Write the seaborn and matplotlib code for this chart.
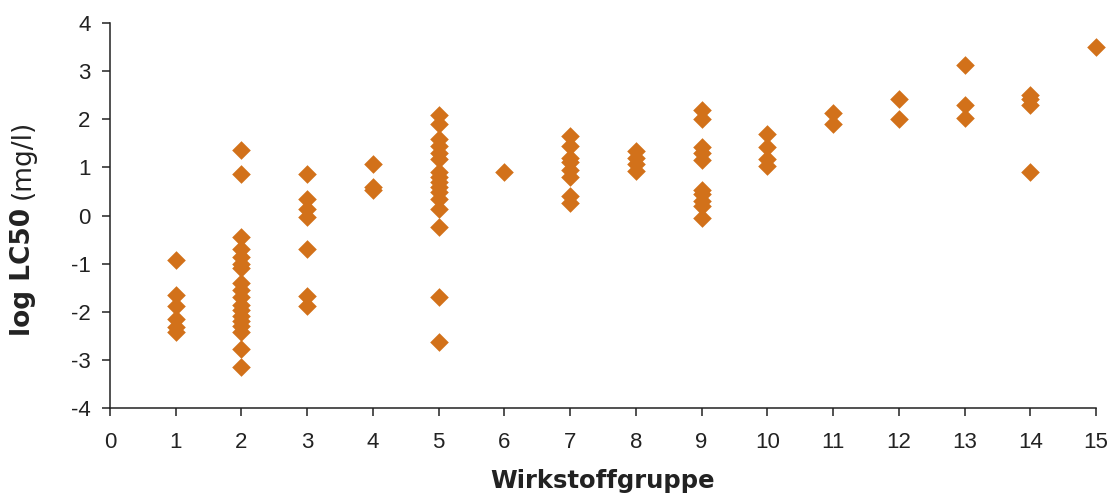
import pandas as pd
import seaborn as sns
import matplotlib.pyplot as plt

# log LC50 values (mg/l) per Wirkstoffgruppe
gruppe_1 = [-0.92, -1.66, -1.87, -2.15, -2.32, -2.43]
gruppe_2 = [1.37, 0.87, -0.45, -0.69, -0.87, -1.0, -1.1, -1.4, -1.55, -1.7,
            -1.85, -1.97, -2.08, -2.2, -2.3, -2.42, -2.77, -3.15]
gruppe_3 = [0.87, 0.35, 0.14, -0.03, -0.7, -1.68, -1.88]
gruppe_4 = [1.07, 0.6, 0.52]
gruppe_5 = [2.08, 1.9, 1.58, 1.45, 1.3, 1.18, 0.9, 0.8, 0.7, 0.6, 0.48, 0.35,
            0.13, -0.24, -1.7, -2.63]
gruppe_6 = [0.9]
gruppe_7 = [1.65, 1.45, 1.2, 1.12, 0.95, 0.8, 0.4, 0.25]
gruppe_8 = [1.35, 1.2, 1.08, 0.93]
gruppe_9 = [2.2, 2.0, 1.42, 1.3, 1.15, 0.52, 0.45, 0.3, 0.2, -0.06]
gruppe_10 = [1.7, 1.42, 1.18, 1.03]
gruppe_11 = [2.13, 1.9]
gruppe_12 = [2.43, 2.01]
gruppe_13 = [3.12, 2.29, 2.03]
gruppe_14 = [2.5, 2.42, 2.3, 0.9]
gruppe_15 = [3.5]

groups = [gruppe_1, gruppe_2, gruppe_3, gruppe_4, gruppe_5, gruppe_6, gruppe_7,
          gruppe_8, gruppe_9, gruppe_10, gruppe_11, gruppe_12, gruppe_13,
          gruppe_14, gruppe_15]

rows = []
for i, vals in enumerate(groups, start=1):
    for v in vals:
        rows.append({'Wirkstoffgruppe': i, 'logLC50': v})
df = pd.DataFrame(rows)

sns.set_style('ticks')
plt.rcParams['font.family'] = ['Liberation Sans', 'DejaVu Sans']
plt.rcParams['axes.unicode_minus'] = False

fig = plt.figure(figsize=(11.11, 4.97), dpi=100)
ax = fig.add_axes([0.099, 0.179, 0.8875, 0.7747])

sns.scatterplot(data=df, x='Wirkstoffgruppe', y='logLC50', marker='D',
                s=90, color='#D2711A', linewidth=0, ax=ax, clip_on=False,
                zorder=3)

ax.set_xlim(0, 15)
ax.set_ylim(-4, 4)
ax.set_xticks(range(0, 16))
ax.set_yticks(range(-4, 5))
sns.despine(ax=ax)
for sp in ['left', 'bottom']:
    ax.spines[sp].set_linewidth(1.1)
    ax.spines[sp].set_color('#222222')
ax.tick_params(axis='both', labelsize=16, width=1.1, length=6,
               color='#222222', labelcolor='#222222')
ax.tick_params(axis='y', pad=8)
ax.tick_params(axis='x', pad=11)

ax.set_xlabel('Wirkstoffgruppe', fontsize=17.5, fontweight='bold',
              family='DejaVu Sans', color='#222222', labelpad=12)
ax.set_ylabel('')

# y label with bold and regular parts
t1 = fig.text(22.5 / 1111, (497 - 336) / 497, 'log LC50', rotation=90,
              fontsize=19, fontweight='bold', family='DejaVu Sans',
              color='#222222', ha='center', va='bottom')
fig.canvas.draw()
bb = t1.get_window_extent()
fig.text(23 / 1111, (bb.y1 + 9) / fig.bbox.height, '(mg/l)', rotation=90,
         fontsize=19, family='DejaVu Sans', color='#222222',
         ha='center', va='bottom')

fig.savefig('out.png', dpi=100)
